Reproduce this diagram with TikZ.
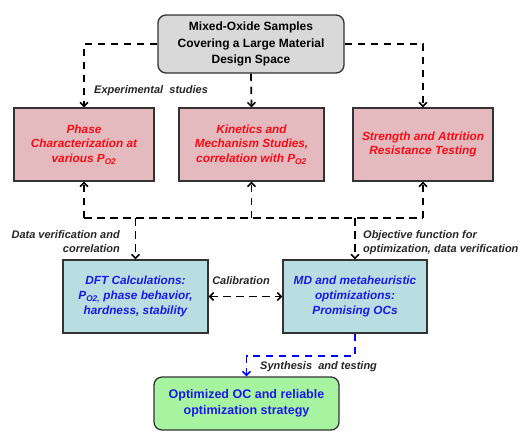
\documentclass[tikz,border=0pt]{standalone}
\usepackage{fontspec}
\setmainfont{Liberation Sans}
\usetikzlibrary{arrows.meta,positioning}
\definecolor{boxGray}{RGB}{217,217,217}
\definecolor{boxRed}{RGB}{228,186,191}
\definecolor{boxTeal}{RGB}{184,222,226}
\definecolor{boxGreen}{RGB}{166,244,160}
\definecolor{txtRed}{RGB}{250,10,20}
\definecolor{txtBlue}{RGB}{25,25,235}

\tikzset{
    box/.style={draw=black!80, line width=1.3pt, align=center, inner sep=2pt,
        font=\fontsize{11.8}{14.5}\selectfont\bfseries\itshape},
    expbox/.style={box, fill=boxRed, text=txtRed, minimum height=73pt},
    simbox/.style={box, fill=boxTeal, text=txtBlue, minimum width=145pt, minimum height=73pt,
        font=\fontsize{11.8}{15}\selectfont\bfseries\itshape},
    flow/.style={line width=1.7pt, dash pattern=on 7.5pt off 5.5pt,
        -{Straight Barb[length=4pt,width=8pt,line width=1.5pt]}},
    lab/.style={font=\fontsize{11}{14}\selectfont\bfseries\itshape, text=black!85, inner sep=1pt}
}

\begin{document}
\begin{tikzpicture}[x=1pt, y=-1pt]
    \useasboundingbox (0,0) rectangle (521,432);

    \node[box, font=\fontsize{12}{16.7}\selectfont\bfseries, fill=boxGray, rounded corners=8pt,
        minimum width=186pt, minimum height=58pt] (samples) at (251,44)
        {Mixed-Oxide Samples\\Covering a Large Material\\Design Space};

    \node[expbox, minimum width=140pt] (phase) at (84,144.5)
        {Phase\\Characterization at\\various P\textsubscript{O2}};
    \node[expbox, minimum width=145pt] (kinetics) at (251.5,144.5)
        {Kinetics and\\Mechanism Studies,\\correlation with P\textsubscript{O2}};
    \node[expbox, minimum width=140pt] (strength) at (423,144.5)
        {Strength and Attrition\\Resistance Testing};

    \node[simbox] (dft) at (135.5,296.5)
        {DFT Calculations:\\P\textsubscript{O2,} phase behavior,\\hardness, stability};
    \node[simbox, minimum width=144pt] (md) at (355,296.5)
        {MD and metaheuristic\\optimizations:\\Promising OCs};

    \node[box, font=\fontsize{12.5}{16}\selectfont\bfseries, fill=boxGreen, text=txtBlue, rounded corners=8pt,
        minimum width=185pt, minimum height=53pt] (optimized) at (246.5,403.5)
        {Optimized OC and reliable\\optimization strategy};

    % experimental studies
    \draw[flow] (samples.west) -| (phase.north);
    \draw[flow] (samples.south) -- (kinetics.north);
    \draw[flow] (samples.east) -| (strength.north);
    \node[lab, anchor=west] (explab) at (93,91) {Experimental\ \ studies};

    % feedback bus
    \coordinate (busL) at (84,218);
    \coordinate (busR) at (423,218);
    \draw[flow, -] (busL) -- (busR);
    \draw[flow] (busL) -- (phase.south);
    \draw[flow] (kinetics.south |- busL) -- (kinetics.south);
    \draw[flow] (busR) -- (strength.south);
    \draw[flow] (dft.north |- busL) -- (dft.north);
    \draw[flow] (md.north |- busL) -- (md.north);
    \node[lab, anchor=east, align=right] (verlab) at (121,242) {Data verification and\\correlation};
    \node[lab, anchor=west, align=left] (objlab) at (362,243) {Objective function for\\optimization, data verification};

    \draw[flow, {Straight Barb[length=4pt,width=8pt,line width=1.5pt]}-{Straight Barb[length=4pt,width=8pt,line width=1.5pt]}]
        (dft.east) -- (md.west);
    \node[lab] (callab) at (241,281) {Calibration};

    \draw[flow, blue] (md.south) -- ++(0,22) -| (optimized.north);
    \node[lab, anchor=west] (synlab) at (259,367) {Synthesis\ \ and testing};
\end{tikzpicture}
\end{document}
